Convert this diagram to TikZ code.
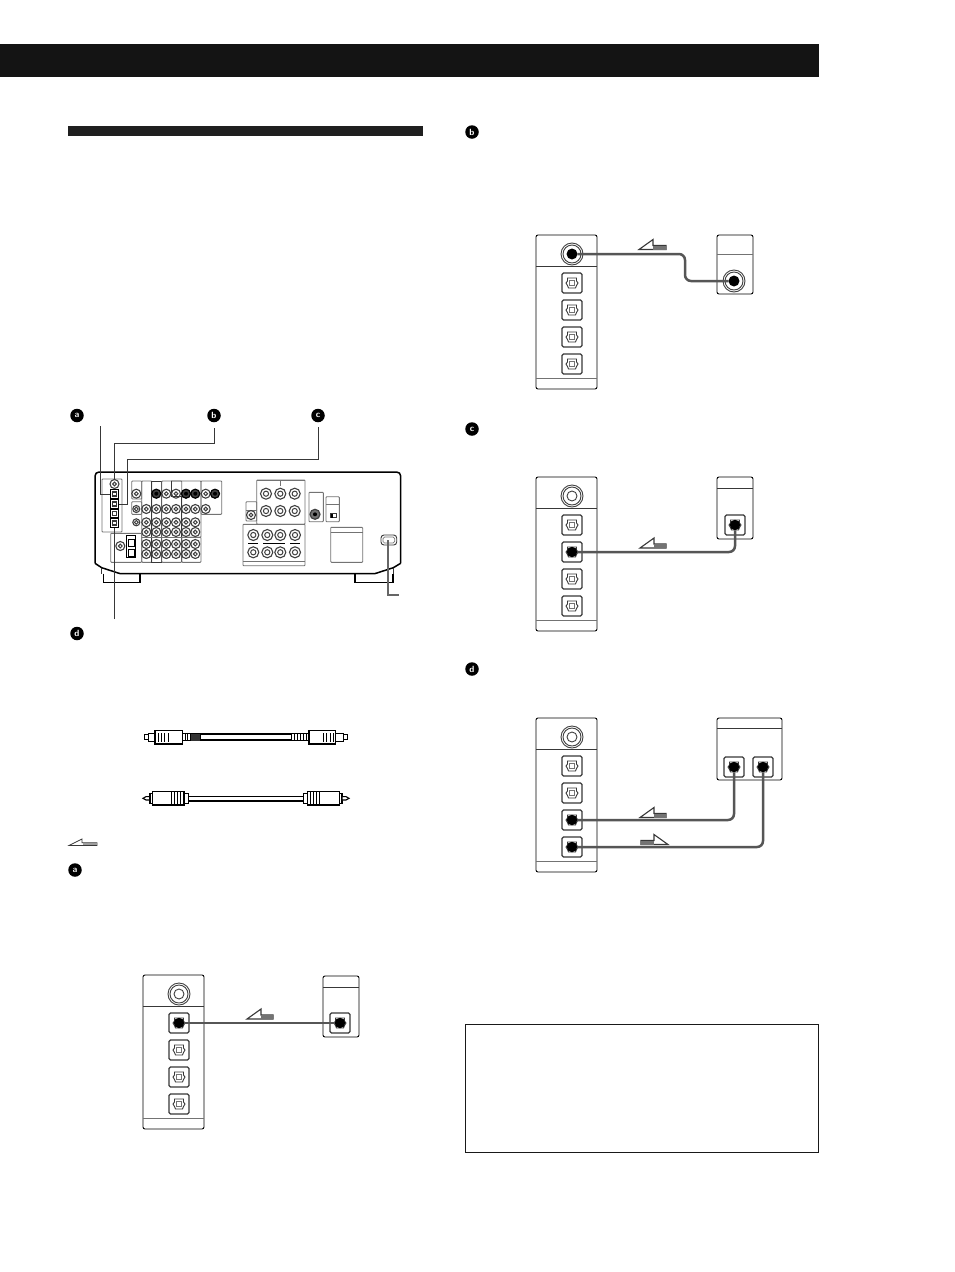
\documentclass[tikz,border=0pt]{standalone}
\usepackage{xcolor}
\usepackage{tikz}
\definecolor{linegray}{rgb}{0.22, 0.22, 0.22}
\definecolor{ringgray}{rgb}{0.25, 0.25, 0.25}
\definecolor{groupgray}{rgb}{0.45, 0.45, 0.45}
\definecolor{tailgray}{rgb}{0.45, 0.45, 0.45}

\tikzset{
	badge/.style = {circle, fill = black, text = white, inner sep = 0pt, minimum size = 13.5pt, font = \fontsize{9}{9}\selectfont\sffamily\bfseries},
	casing/.style = {draw = black, line width = 0.9pt, rounded corners = 2pt, fill = white},
	sepline/.style = {draw = linegray, line width = 0.9pt},
	coaxjack/.style = {circle, draw = ringgray, line width = 0.9pt, minimum size = 22pt, inner sep = 0pt, path picture = {
		\draw[ringgray, line width = 0.9pt] (path picture bounding box.center) circle (9pt);
		\draw[ringgray, line width = 0.9pt] (path picture bounding box.center) circle (5pt);}},
	optport/.style = {draw = linegray, line width = 1.1pt, rounded corners = 1.5pt, minimum size = 20pt, inner sep = 0pt},
	plug/.style = {circle, fill = black, minimum size = 10.5pt, inner sep = 0pt},
	cable/.style = {draw = linegray!85!white, line width = 2.5pt, rounded corners = 6pt},
	group/.style = {draw = groupgray, line width = 0.9pt, rounded corners = 0.8pt},
	darkgroup/.style = {draw = linegray, line width = 1pt},
	smalljack/.style = {circle, draw = ringgray, line width = 1.1pt, minimum size = 9pt, inner sep = 0pt, path picture = {
		\draw[ringgray, line width = 1pt] (path picture bounding box.center) circle (1.9pt);}},
	tinyjack/.style = {smalljack, minimum size = 7pt},
	bigjack/.style = {circle, draw = ringgray, line width = 1.1pt, minimum size = 11pt, inner sep = 0pt, path picture = {
		\draw[ringgray, line width = 1pt] (path picture bounding box.center) circle (2.6pt);}},
	darkjack/.style = {circle, draw = black, fill = ringgray, line width = 1.2pt, minimum size = 9pt, inner sep = 0pt, path picture = {
		\fill[black] (path picture bounding box.center) circle (2pt);}},
	wideport/.style = {draw = black, line width = 1pt, minimum size = 8.5pt, inner sep = 0pt},
	leader/.style = {draw = linegray, line width = 0.9pt}
}

\newcommand{\optjack}[3]{
	\node[optport] (#1) at (#2, #3) {};
	\begin{scope}[shift = {(#2, #3)}]
		\draw[linegray, line width = 0.9pt] (-4.5, -5) -- (4.5, -5) -- (4.5, -2) -- (6, 0) -- (4.5, 2.5) -- (3.5, 5) -- (-3.5, 5) -- (-4.5, 2.5) -- (-6, 0) -- (-4.5, -2) -- cycle;
		\draw[groupgray, line width = 1pt] (-2.7, -2.7) rectangle (2.7, 2.7);
	\end{scope}
}

\newcommand{\selector}[3]{
	\begin{scope}[shift = {(#2, #3)}]
		\draw[casing] (0, 0) rectangle (61, 154);
		\draw[sepline] (0, 31) -- (61, 31);
		\draw[sepline, groupgray] (0, 143) -- (61, 143);
		\node[coaxjack] (#1jack) at (36, 19) {};
		\optjack{#1porta}{36}{48}
		\optjack{#1portb}{36}{75}
		\optjack{#1portc}{36}{102}
		\optjack{#1portd}{36}{129}
	\end{scope}
}

\newcommand{\flowarrow}[4]{
	\begin{scope}[shift = {(#1, #2)}, xscale = #3]
		\draw[linegray, line width = 1.1pt, fill = white] (0, 0) -- (14, -10) -- (14, -4) -- (#4, -4) -- (#4, 0) -- cycle;
		\fill[tailgray] (14, -4) rectangle (#4, 0);
	\end{scope}
}

\begin{document}
\begin{tikzpicture}[x = 1pt, y = -1pt]
	\useasboundingbox (0, 0) rectangle (954, 1272);
	\fill[white] (0, 0) rectangle (954, 1272);

	\fill[black!92] (0, 44) rectangle (819, 77);
	\fill[black!88] (68, 126) rectangle (423, 136);
	\draw[black!90, line width = 1.7pt] (465.5, 1024.5) rectangle (818.5, 1152.5);

	\node[badge] (toplabela) at (77, 415.5) {a};
	\node[badge] (toplabelb) at (214, 415.5) {b};
	\node[badge] (toplabelc) at (318, 415.5) {c};
	\node[badge] (toplabeld) at (77, 633.5) {d};
	\node[badge] (seca) at (75, 870) {a};
	\node[badge] (secb) at (472, 132) {b};
	\node[badge] (secc) at (472, 429) {c};
	\node[badge] (secd) at (472, 669) {d};

	\draw[black, line width = 1.5pt, rounded corners = 4pt] (95, 563.3) -- (95, 472) -- (400.7, 472) -- (400.7, 563.3);
	\draw[black, line width = 1.5pt] (95, 563.3) -- (101.7, 567.7) -- (120, 573.6) -- (375, 573.6) -- (393.3, 567.7) -- (400.7, 563.3);
	\draw[linegray, line width = 0.9pt] (101.7, 567.7) -- (101.7, 573.6);
	\draw[linegray, line width = 0.9pt] (393.3, 567.7) -- (393.3, 573.6);
	\draw[black, line width = 1.2pt] (103.3, 573.6) -- (103.3, 582.7) -- (140, 582.7) -- (140, 573.6);
	\draw[black, line width = 1.2pt] (355, 573.6) -- (355, 582.7) -- (393, 582.7) -- (393, 573.6);

	\draw[group] (131.7, 481) rectangle (141.7, 499);
	\draw[group] (131.7, 501.7) rectangle (141.7, 514.3);
	\draw[group] (110.7, 533.3) rectangle (141.7, 562.3);
	\draw[group] (141.7, 481) rectangle (151.7, 562.3);
	\draw[darkgroup] (151.7, 481) rectangle (161.7, 562.3);
	\draw[group] (161.7, 481) rectangle (181.7, 562.3);
	\draw[group] (171, 481) -- (201, 481) -- (201, 537.3) -- (181.7, 537.3);
	\draw[darkgroup] (171, 481) -- (171, 496.7) -- (181.7, 496.7) -- (181.7, 562.3);
	\draw[group] (181.7, 537.3) rectangle (201, 562.3);
	\draw[group] (141.7, 537.3) -- (181.7, 537.3);
	\draw[group] (201, 481) rectangle (221.7, 514.3);

	\foreach \xpos/\jackname in {136.3/a, 166.3/c, 176/d, 205.7/g}
		\node[smalljack] (rowa\jackname) at (\xpos, 493.7) {};
	\foreach \xpos/\jackname in {156.3/b, 186/e, 195.3/f, 215/h}
		\node[darkjack] (rowa\jackname) at (\xpos, 493.7) {};
	\foreach \xpos/\jackname in {146.3/b, 156.3/c, 166.3/d, 176/e, 186/f, 195.3/g, 205.7/h}
		\node[smalljack] (rowb\jackname) at (\xpos, 509) {};
	\node[tinyjack] (rowba) at (136.3, 509) {};
	\node[tinyjack] (rowca) at (136.3, 522.3) {};
	\foreach \ypos/\rowname in {522.3/c, 532/d, 544/e, 554/f}
		\foreach \xpos/\jackname in {146.3/b, 156.3/c, 166.3/d, 176/e, 186/f, 195.3/g}
			\node[smalljack] (row\rowname\jackname) at (\xpos, \ypos) {};

	\node[smalljack] (antenna) at (120.3, 546) {};
	\draw[black, line width = 1pt] (126.7, 535.7) rectangle (135.7, 557.3);
	\draw[black, line width = 0.8pt] (128.5, 539.3) rectangle (133.9, 546.7);
	\draw[black, line width = 0.8pt] (128.5, 549) rectangle (133.9, 556.3);

	\draw[group] (102, 479) rectangle (122, 532);
	\node[smalljack] (recjack) at (114.5, 484) {};
	\node[wideport] (recporta) at (114.5, 494) {};
	\node[wideport] (recportb) at (114.5, 504) {};
	\node[wideport] (recportc) at (114.5, 513.5) {};
	\node[wideport] (recportd) at (114.5, 523) {};
	\foreach \portname in {a, b, c, d}
		\draw[linegray, line width = 1.4pt] ([shift = {(-2.2pt, -2pt)}]recport\portname.center) rectangle ([shift = {(2.2pt, 2pt)}]recport\portname.center);

	\coordinate (leada) at (100.7, 426);
	\coordinate (leadb) at (114.5, 443);
	\coordinate (leadbtop) at (214, 428);
	\coordinate (leadc) at (127, 459);
	\coordinate (leadctop) at (318, 427);
	\coordinate (leadd) at (114.5, 619);
	\draw[leader] (leada) |- (recporta);
	\draw[leader] (leadbtop) |- (leadb) -- (recjack);
	\draw[leader] (leadctop) |- (leadc) |- (recportb);
	\draw[leader] (leadd) -- (recportd);

	\draw[group] (256.7, 480) rectangle (305, 524.3);
	\draw[darkgroup, groupgray] (256.7, 480) -- (305, 480);
	\draw[group] (280.3, 480) -- (280.3, 486);
	\draw[group] (246, 501.7) rectangle (256.7, 521);
	\draw[group] (246, 510) -- (256.7, 510);
	\draw[group] (243, 524.3) rectangle (305, 565.7);
	\draw[group] (243, 561.7) -- (305, 561.7);
	\foreach \xfrom/\xto in {248.3/258.3, 263.3/285, 290/300}
		\draw[black, line width = 0.9pt] (\xfrom, 543.3) -- (\xto, 543.3);
	\foreach \xpos/\jackname in {266/a, 280.3/b, 294.7/c} {
		\node[bigjack] (upper\jackname) at (\xpos, 493.7) {};
		\node[bigjack] (middle\jackname) at (\xpos, 511) {};
	}
	\node[smalljack] (sidejack) at (251, 515) {};
	\foreach \xpos/\jackname in {253.3/a, 267.3/b, 280.3/c, 295/d} {
		\node[bigjack] (lowera\jackname) at (\xpos, 535) {};
		\node[bigjack] (lowerb\jackname) at (\xpos, 552.3) {};
	}

	\draw[group] (309, 492.3) rectangle (323.3, 521.7);
	\node[darkjack, draw = ringgray, fill = groupgray, minimum size = 10pt] (svideo) at (315, 514.3) {};
	\draw[group] (326, 496.7) rectangle (339.3, 521.7);
	\draw[group] (326, 504) -- (339.3, 504);
	\draw[linegray, line width = 0.7pt] (330.5, 513.7) rectangle (336, 517.7);
	\fill[black] (330.5, 513.7) rectangle (333.2, 517.7);
	\draw[group] (330.7, 527.3) rectangle (362.7, 562.3);
	\draw[group] (330.7, 532.7) -- (362.7, 532.7);

	\draw[linegray, line width = 0.9pt, rounded corners = 3pt] (381, 535) rectangle (396.7, 545);
	\draw[groupgray, line width = 0.7pt, rounded corners = 1.5pt] (383, 537) rectangle (394.7, 543);
	\coordinate (cordstart) at (387.7, 540);
	\coordinate (cordend) at (399.3, 595.3);
	\draw[ringgray!80!white, line width = 2.3pt] (cordstart) |- (cordend);

	\draw[black, line width = 1.1pt, fill = white] (144.3, 734.8) rectangle (148.3, 739.8);
	\draw[black, line width = 1.1pt, fill = white] (148.3, 733.3) rectangle (155, 741.3);
	\draw[black, line width = 1.2pt, fill = white] (155, 730.6) rectangle (182.7, 744);
	\foreach \xpos in {158, 161.4, 164.8, 168.2}
		\draw[black, line width = 1pt] (\xpos, 733) -- (\xpos, 741.6);
	\draw[black, line width = 1pt] (182.7, 733.8) rectangle (200, 740.8);
	\foreach \xpos in {185, 187.5, 190}
		\draw[black, line width = 1pt] (\xpos, 733.8) -- (\xpos, 740.8);
	\fill[black!80] (191, 733.8) rectangle (200, 740.8);
	\draw[black, line width = 2pt] (200, 734.3) -- (291.7, 734.3);
	\draw[black, line width = 2pt] (200, 740.3) -- (291.7, 740.3);
	\draw[black, line width = 1pt] (291.7, 733.8) rectangle (309, 740.8);
	\foreach \xpos in {294, 297, 300, 303, 306}
		\draw[black, line width = 1pt] (\xpos, 733.8) -- (\xpos, 740.8);
	\draw[black, line width = 1.2pt, fill = white] (309, 730.6) rectangle (335.7, 744);
	\foreach \xpos in {323.3, 326.7, 330.1, 333.5}
		\draw[black, line width = 1pt] (\xpos, 733) -- (\xpos, 741.6);
	\draw[black, line width = 1.1pt, fill = white] (335.7, 733.3) rectangle (343.3, 741.3);
	\draw[black, line width = 1.1pt, fill = white] (343.3, 734.8) rectangle (347.3, 739.8);

	\draw[black, line width = 1.1pt, fill = white] (143, 798.3) -- (146, 796.6) -- (150, 796.6) -- (150, 800) -- (146, 800) -- cycle;
	\draw[black, line width = 1.1pt, fill = white] (150, 793.3) rectangle (152.7, 803.3);
	\draw[black, line width = 1.3pt, fill = white] (152.7, 791.5) rectangle (184, 805.1);
	\foreach \xpos in {171.7, 174.6, 177.5, 180.4, 183.3}
		\draw[black, line width = 0.9pt] (\xpos, 791.5) -- (\xpos, 805.1);
	\draw[black, line width = 1.1pt, fill = white] (184, 793.3) rectangle (188.7, 803.3);
	\draw[black, line width = 1.3pt] (188.7, 796.2) -- (303.3, 796.2);
	\draw[black, line width = 1.8pt] (188.7, 800.6) -- (303.3, 800.6);
	\draw[black, line width = 1.1pt, fill = white] (303.3, 793.3) rectangle (307.3, 803.3);
	\draw[black, line width = 1.3pt, fill = white] (307.3, 791.5) rectangle (339.3, 805.1);
	\foreach \xpos in {310, 313, 316}
		\draw[black, line width = 0.9pt] (\xpos, 791.5) -- (\xpos, 805.1);
	\draw[black, line width = 1.6pt] (319.3, 791.5) -- (319.3, 805.1);
	\draw[black, line width = 1.1pt, fill = white] (339.3, 793.3) rectangle (342, 803.3);
	\draw[black, line width = 1.1pt, fill = white] (342, 796.6) -- (346, 796.6) -- (349, 798.3) -- (346, 800) -- (342, 800) -- cycle;

	\draw[linegray, line width = 0.8pt, fill = white] (69, 845.5) -- (82, 839) -- (82, 842.8) -- (97, 842.8) -- (97, 845.5) -- cycle;
	\fill[tailgray!70!white] (82.5, 843.3) rectangle (96.5, 845);

	\selector{panela}{143}{975}
	\selector{panelb}{536}{235}
	\selector{panelc}{536}{477}
	\selector{paneld}{536}{718}

	\draw[casing] (323, 976) rectangle (359, 1037);
	\draw[sepline] (323, 987) -- (359, 987);
	\optjack{devaport}{340}{1023}
	\draw[casing] (717, 235) rectangle (753, 294);
	\draw[sepline, groupgray] (717, 254) -- (753, 254);
	\node[coaxjack] (devbjack) at (734, 281) {};
	\draw[casing] (717, 477) rectangle (753, 539);
	\draw[sepline] (717, 488) -- (753, 488);
	\optjack{devcport}{735}{525}
	\draw[casing] (717, 718) rectangle (782, 780);
	\draw[sepline] (717, 728) -- (782, 728);
	\optjack{devdporta}{734}{767}
	\optjack{devdportb}{763}{767}

	\node[plug] (plugaa) at (panelaporta) {};
	\node[plug] (plugab) at (devaport) {};
	\node[plug] (plugba) at (panelbjack) {};
	\node[plug] (plugbb) at (devbjack) {};
	\node[plug] (plugca) at (panelcportb) {};
	\node[plug] (plugcb) at (devcport) {};
	\node[plug] (plugda) at (paneldportc) {};
	\node[plug] (plugdb) at (devdporta) {};
	\node[plug] (plugdc) at (paneldportd) {};
	\node[plug] (plugdd) at (devdportb) {};

	\coordinate (bendb) at (685, 268);
	\draw[cable] (plugaa) -- (plugab);
	\draw[cable] (plugba) -| (bendb) |- (plugbb);
	\draw[cable] (plugca) -| (plugcb);
	\draw[cable] (plugda) -| (plugdb);
	\draw[cable] (plugdc) -| (plugdd);

	\flowarrow{247}{1019}{1}{26}
	\flowarrow{639}{249.5}{1}{27}
	\flowarrow{640}{548}{1}{26}
	\flowarrow{640}{817.5}{1}{26}
	\flowarrow{668}{844.5}{-1}{27}
\end{tikzpicture}
\end{document}
